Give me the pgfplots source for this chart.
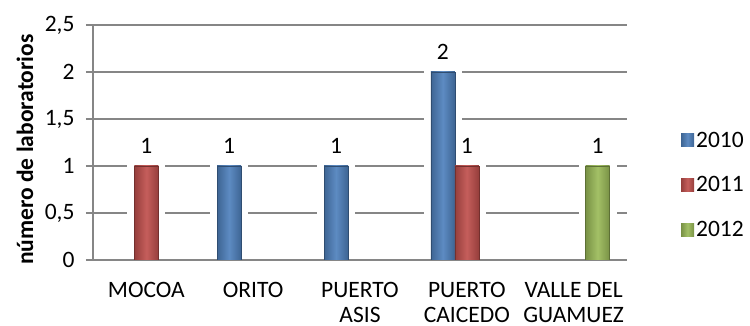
\documentclass[border=0pt]{standalone}
\usepackage{fontspec}
\setmainfont{Carlito}
\usepackage{pgfplots}
\pgfplotsset{compat=1.18}
\definecolor{cA}{HTML}{4F81BD}
\definecolor{cB}{HTML}{C0504D}
\definecolor{cC}{HTML}{9BBB59}
\definecolor{gridc}{HTML}{868686}
\newcommand{\fs}{\fontsize{23.5pt}{25pt}\selectfont}
\pgfplotsset{
  barA/.style={bar shift=-24pt, draw=cA!60!black, line width=0.4pt,
    left color=cA!78!black, right color=cA!78!black, middle color=cA!92!white, nodes near coords},
  barB/.style={bar shift=0pt, draw=cB!60!black, line width=0.4pt,
    left color=cB!78!black, right color=cB!78!black, middle color=cB!92!white, nodes near coords},
  barC/.style={bar shift=24pt, draw=cC!60!black, line width=0.4pt,
    left color=cC!78!black, right color=cC!78!black, middle color=cC!92!white, nodes near coords},
  halo/.style={on layer=axis ticks, fill=white, draw=white, line width=6pt, bar width=32pt, forget plot},
}
\begin{document}
\begin{tikzpicture}
\begin{axis}[
  set layers=standard,
  at={(0,0)}, anchor=south west,
  width=534pt, height=235pt, scale only axis,
  ymin=0, ymax=2.5, ytick={0,0.5,1,1.5,2,2.5},
  xmin=-0.5, xmax=4.5,
  xtick={0,1,2,3,4},
  xticklabels={MOCOA, ORITO, {PUERTO\\ASIS}, {PUERTO\\CAICEDO}, {VALLE DEL\\GUAMUEZ}},
  x tick label style={align=center, font=\fs, yshift=-12pt},
  y tick label style={font=\fs, anchor=east},
  yticklabel={\pgfmathprintnumber{\tick}\hspace*{8pt}},
  major x tick style={draw=none},
  extra x ticks={-0.5,0.5,1.5,2.5,3.5,4.5},
  extra x tick labels={},
  extra x tick style={major tick style={draw=gridc, line width=1.5pt}, major tick length=7pt},
  tick align=outside,
  major tick length=7pt,
  tick style={draw=gridc, line width=1.5pt},
  axis x line*=bottom, axis y line*=left,
  axis line style={draw=gridc, line width=1.5pt},
  ymajorgrids, major grid style={draw=gridc, line width=2pt},
  /pgf/number format/use comma,
  /pgf/number format/assume math mode=true,
  ylabel={número de laboratorios},
  every axis y label/.style={at={(rel axis cs:0,0.47)}, xshift=-68pt, rotate=90, anchor=center, font=\fs\bfseries},
  ybar, bar width=24pt,
  legend style={at={(rel axis cs:1.101,0.319)}, anchor=west, draw=none, fill=none, font=\fs,
    row sep=24pt, inner sep=0pt},
  legend cell align=left,
  legend image code/.code={\fill[#1, draw=none] (0pt,-6.5pt) rectangle (13pt,6.5pt);},
  every node near coord/.append style={font=\fs, color=black, yshift=9pt},
]
% white halos behind bars (cut the grid lines)
\addplot[halo, bar shift=-24pt] coordinates {(1,1) (2,1) (3,2)};
\addplot[halo, bar shift=0pt]   coordinates {(0,1) (3,1)};
\addplot[halo, bar shift=24pt]  coordinates {(4,1)};
% bars: 2010
\addplot[barA] coordinates {(1,1)};
% 2011
\addplot[barB] coordinates {(0,1)};
% 2012
\addplot[barC] coordinates {(4,1)};
% remaining bars
\addplot[barA, forget plot] coordinates {(2,1)};
\addplot[barA, forget plot] coordinates {(3,2)};
\addplot[barB, forget plot] coordinates {(3,1)};
\legend{2010,2011,2012}
\end{axis}
\pgfresetboundingbox
\useasboundingbox (-93pt,-66pt) rectangle (657pt,260pt);
\end{tikzpicture}
\end{document}
